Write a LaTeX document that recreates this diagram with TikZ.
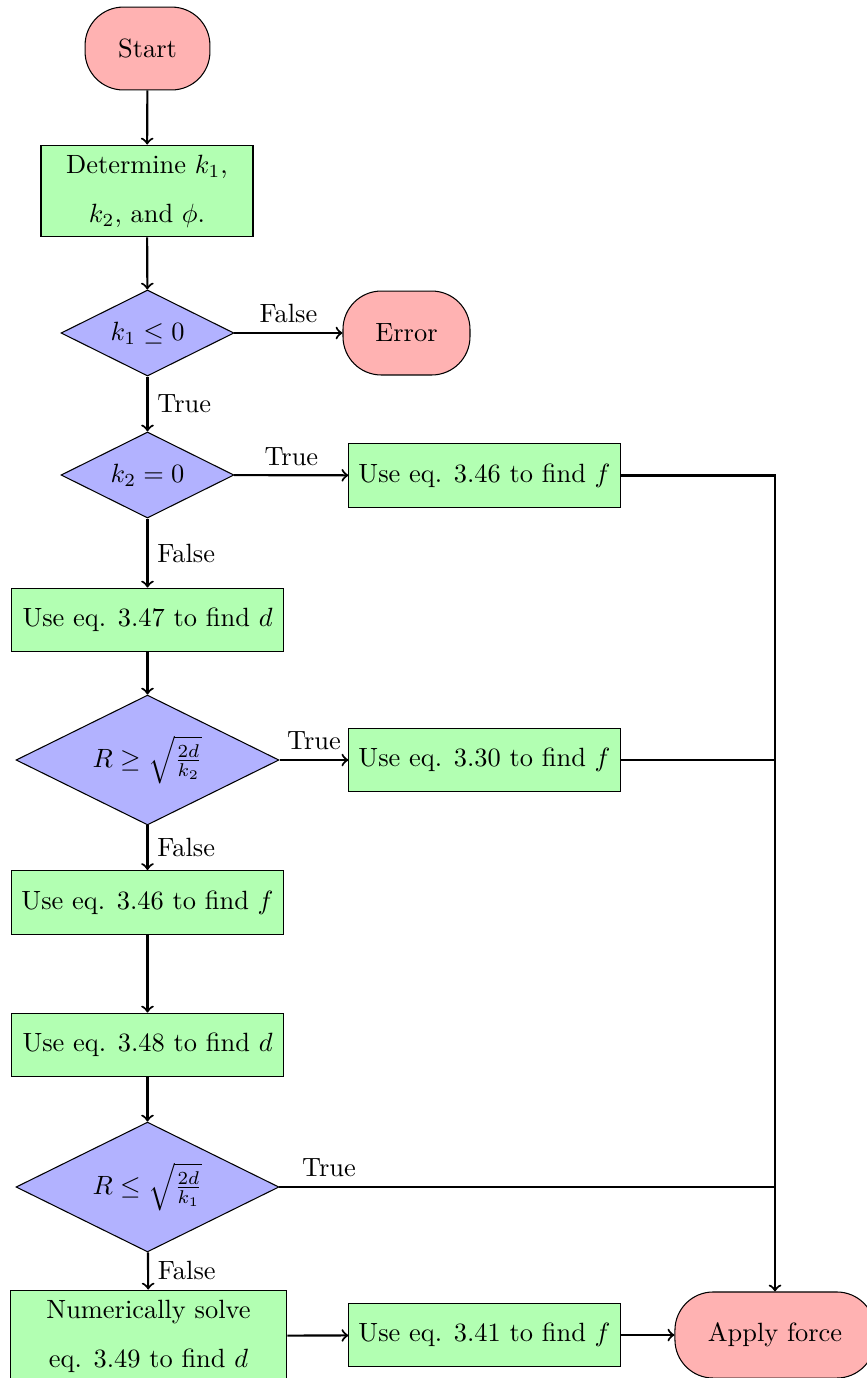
\documentclass[tikz,border=0pt]{standalone}
\usetikzlibrary{shapes.geometric}
\begin{document}
\begin{tikzpicture}[x=0.3788pt,y=-0.3788pt,
  term/.style={rectangle, rounded corners=14.5pt, draw, fill=red!30, inner sep=2pt},
  proc/.style={rectangle, draw, fill=green!30, inner sep=2pt, minimum width=102.7pt, minimum height=24.2pt},
  proctwo/.style={rectangle, draw, fill=green!30, inner sep=2pt, align=center},
  dec/.style={diamond, aspect=2, draw, fill=blue!30, inner sep=0pt},
  conn/.style={thick, ->},
  line/.style={thick}]
\clip (0,0) rectangle (867,1378);
\node[term, minimum width=47.3pt, minimum height=31.4pt] (start) at (147.5,48.5) {Start};
\node[proctwo, minimum width=80.3pt, minimum height=34.8pt] (det) at (147,191) {Determine $k_1$,\\[6.6pt] $k_2$, and $\phi$.};
\node[dec, minimum width=65.5pt, minimum height=32.6pt] (d1) at (147.5,333) {$k_1 \leq 0$};
\node[term, minimum width=48.1pt, minimum height=31.8pt] (err) at (406.5,333) {Error};
\node[dec, minimum width=65.5pt, minimum height=32.6pt] (d2) at (147.5,475) {$k_2 = 0$};
\node[proc] (b346a) at (484.5,475.5) {Use eq. 3.46 to find $f$};
\node[proc] (b347) at (147.5,620) {Use eq. 3.47 to find $d$};
\node[dec, minimum width=99.6pt, minimum height=49.2pt] (d3) at (147.5,760) {$R \geq \sqrt{\frac{2d}{k_2}}$};
\node[proc] (b330) at (484.5,760) {Use eq. 3.30 to find $f$};
\node[proc] (b346b) at (147.5,902.5) {Use eq. 3.46 to find $f$};
\node[proc] (b348) at (147.5,1045) {Use eq. 3.48 to find $d$};
\node[dec, minimum width=99.6pt, minimum height=49.2pt] (d4) at (147.5,1187) {$R \leq \sqrt{\frac{2d}{k_1}}$};
\node[proctwo, minimum width=104.9pt, minimum height=34.8pt] (num) at (148.5,1336) {Numerically solve\\[6.6pt] eq. 3.49 to find $d$};
\node[proc] (b341) at (484.5,1335) {Use eq. 3.41 to find $f$};
\node[term, minimum width=75.8pt, minimum height=32.6pt] (app) at (775,1335) {Apply force};

\draw[conn] (start) -- (det);
\draw[conn] (det) -- (d1);
\draw[conn] (d1) -- node[above] {False} (err);
\draw[conn] (d1) -- node[right] {True} (d2);
\draw[conn] (d2) -- node[above] {True} (b346a);
\draw[conn] (d2) -- node[right] {False} (b347);
\draw[conn] (b347) -- (d3);
\draw[conn] (d3) -- node[above] {True} (b330);
\draw[conn] (d3) -- node[right] {False} (b346b);
\draw[conn] (b346b) -- (b348);
\draw[conn] (b348) -- (d4);
\draw[conn] (d4) -- node[right] {False} (num);
\draw[conn] (num) -- (b341);
\draw[conn] (b341) -- (app);
\draw[conn] (b346a) -| (app);
\draw[line] (b330.east) -- (b330.east -| app);
\draw[line] (d4.east) -- node[above, pos=0.1] {True} (d4.east -| app);
\end{tikzpicture}
\end{document}
